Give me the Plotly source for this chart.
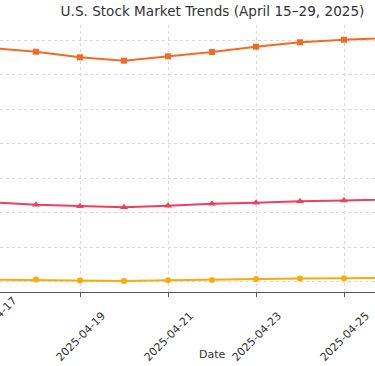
import datetime as dt
import plotly.graph_objects as go

dates = ["2025-04-15", "2025-04-16", "2025-04-17", "2025-04-18", "2025-04-19",
         "2025-04-20", "2025-04-21", "2025-04-22", "2025-04-23", "2025-04-24",
         "2025-04-25", "2025-04-26", "2025-04-27", "2025-04-28", "2025-04-29"]
dow = [39600, 39200, 38840, 38300, 37490, 37000, 37640, 38260, 39030, 39670,
       40040, 40330, 40550, 40750, 40950]
nasdaq = [16700, 16600, 16460, 16120, 15910, 15770, 15970, 16260, 16410, 16640,
          16740, 17000, 17150, 17250, 17350]
sp500 = [5380, 5340, 5300, 5275, 5130, 5090, 5190, 5230, 5380, 5420,
         5480, 5520, 5560, 5590, 5620]

tick_dates = ["2025-04-17", "2025-04-19", "2025-04-21", "2025-04-23", "2025-04-25"]
y_grid = [5000, 10000, 15000, 20000, 25000, 30000, 35000, 40000]

x_range = ["2025-04-17 04:21:49", "2025-04-25 16:54:33"]
y_range = [3478, 42174]

fig = go.Figure()
fig.add_trace(go.Scatter(x=dates, y=dow, mode="lines+markers", name="Dow Jones",
                         line=dict(color="#F56A1E", width=2),
                         marker=dict(symbol="square", size=6, color="#F56A1E")))
fig.add_trace(go.Scatter(x=dates, y=nasdaq, mode="lines+markers", name="NASDAQ",
                         line=dict(color="#F03E5E", width=2),
                         marker=dict(symbol="triangle-up", size=7, color="#F03E5E")))
fig.add_trace(go.Scatter(x=dates, y=sp500, mode="lines+markers", name="S&P 500",
                         line=dict(color="#FFAA00", width=2),
                         marker=dict(symbol="circle", size=6, color="#FFAA00")))

fig.update_layout(
    width=375, height=366,
    margin=dict(l=0, r=0, t=25, b=74),
    paper_bgcolor="white", plot_bgcolor="white",
    showlegend=False,
    font=dict(family="DejaVu Sans", color="#333333"),
    title=dict(text="U.S. Stock Market Trends (April 15–29, 2025)",
               x=212.5 / 375, xanchor="center", xref="container",
               y=1 - 11.5 / 366, yanchor="middle", yref="container",
               font=dict(size=13.6, color="#333333")),
    xaxis=dict(type="date", range=x_range, tickvals=tick_dates,
               ticktext=tick_dates, tickangle=-45, tickfont=dict(size=11, color="#333333"),
               showgrid=True, gridcolor="#d9d9d9", griddash="dot", gridwidth=1,
               showline=True, linecolor="#555555", linewidth=1,
               ticks="outside", ticklen=4, tickcolor="#555555",
               ticklabelshift=22, ticklabelstandoff=8, zeroline=False),
    yaxis=dict(range=y_range, tickvals=y_grid, showticklabels=False,
               showgrid=True, gridcolor="#d9d9d9", griddash="dot", gridwidth=1,
               showline=False, zeroline=False, ticks=""),
)

fig.add_annotation(text="Date", xref="paper", yref="paper",
                   x=212 / 375, y=(292 - 354) / 267, xanchor="center", yanchor="middle",
                   showarrow=False, font=dict(size=11, color="#333333"))

# partially visible first tick label (its tick lies just left of the visible range)
_r0 = dt.datetime.fromisoformat(x_range[0])
_r1 = dt.datetime.fromisoformat(x_range[1])
_t = dt.datetime.fromisoformat(tick_dates[0])
_frac = (_t - _r0).total_seconds() / (_r1 - _r0).total_seconds()
fig.add_annotation(text=tick_dates[0], xref="paper", yref="paper",
                   x=_frac, y=(292 - 321) / 267, xanchor="center", yanchor="middle",
                   textangle=-45, showarrow=False, font=dict(size=11, color="#333333"))

fig.write_html("out.html", config={"displayModeBar": False},
               post_script="document.body.style.margin='0';document.body.style.overflow='hidden';")
